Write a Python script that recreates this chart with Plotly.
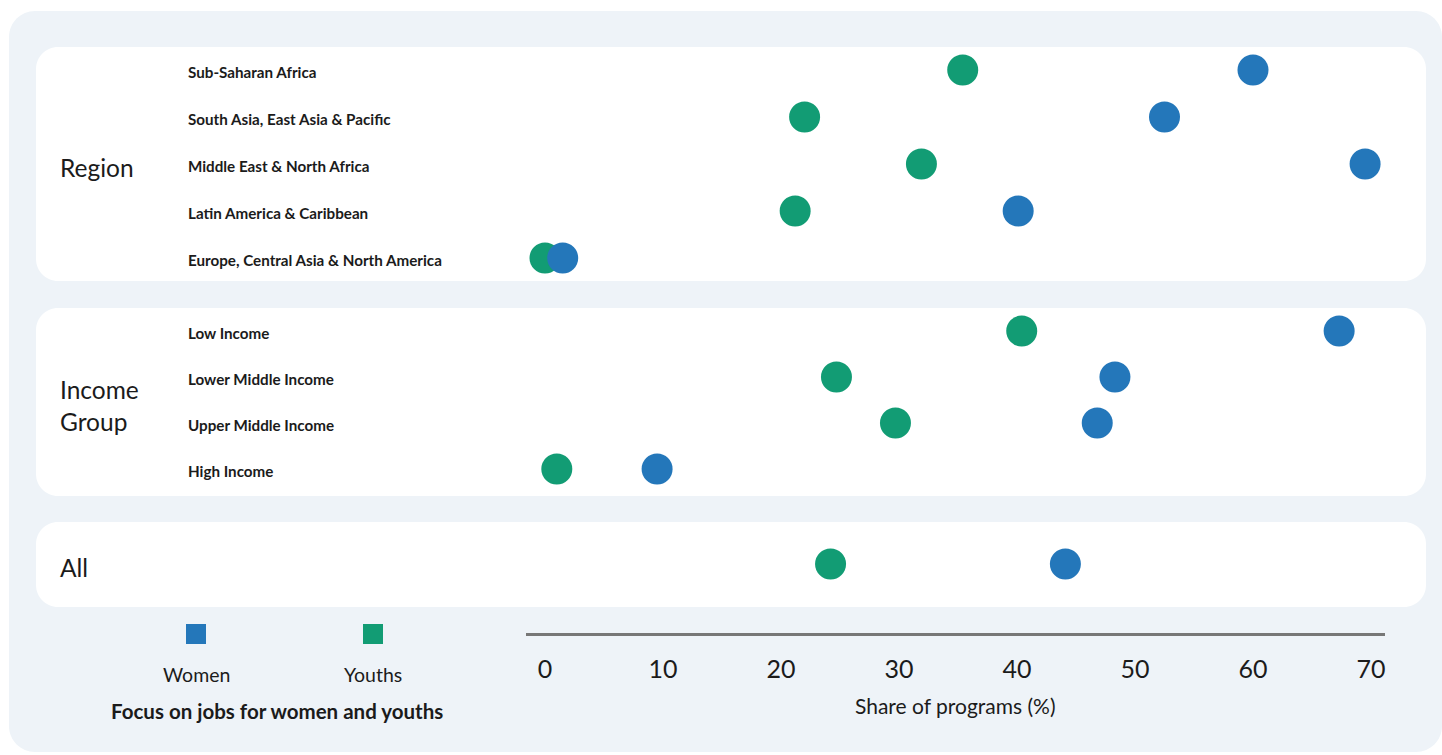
import plotly.graph_objects as go

# ---- data -------------------------------------------------------------
groups = ["Region", "Income Group", "All"]
region_labels = [
    "Sub-Saharan Africa",
    "South Asia, East Asia & Pacific",
    "Middle East & North Africa",
    "Latin America & Caribbean",
    "Europe, Central Asia & North America",
]
region_women = [60.0, 52.5, 69.5, 40.1, 1.5]
region_youths = [35.4, 22.0, 31.9, 21.2, 0.0]

income_labels = ["Low Income", "Lower Middle Income", "Upper Middle Income", "High Income"]
income_women = [67.3, 48.3, 46.8, 9.5]
income_youths = [40.4, 24.7, 29.7, 1.0]

all_women = [44.1]
all_youths = [24.2]

x_ticks = [0, 10, 20, 30, 40, 50, 60, 70]
series_names = ["Women", "Youths"]
colors = {"Women": "#2477BA", "Youths": "#129C74"}

# ---- page geometry (pixels) ------------------------------------------
W, H = 1442, 755
PANEL_BG = "#EEF3F8"
TEXT = "#1b1b1b"
FONT = "Lato, sans-serif"


def X(px):
    return px / W


def Y(py):
    return 1 - py / H


def rounded_rect(x0, y0, x1, y1, r, fill):
    k = 0.5523 * r
    p = (
        f"M {X(x0 + r)},{Y(y0)} L {X(x1 - r)},{Y(y0)} "
        f"C {X(x1 - r + k)},{Y(y0)} {X(x1)},{Y(y0 + r - k)} {X(x1)},{Y(y0 + r)} "
        f"L {X(x1)},{Y(y1 - r)} "
        f"C {X(x1)},{Y(y1 - r + k)} {X(x1 - r + k)},{Y(y1)} {X(x1 - r)},{Y(y1)} "
        f"L {X(x0 + r)},{Y(y1)} "
        f"C {X(x0 + r - k)},{Y(y1)} {X(x0)},{Y(y1 - r + k)} {X(x0)},{Y(y1 - r)} "
        f"L {X(x0)},{Y(y0 + r)} "
        f"C {X(x0)},{Y(y0 + r - k)} {X(x0 + r - k)},{Y(y0)} {X(x0 + r)},{Y(y0)} Z"
    )
    return dict(type="path", path=p, xref="paper", yref="paper",
                fillcolor=fill, line=dict(width=0), layer="below")


# panels: (top, bottom) in pixels, first row position and row step
panels = {
    "Region": dict(top=47, bottom=281, first=70, step=47),
    "Income Group": dict(top=308, bottom=496, first=331, step=46),
    "All": dict(top=522, bottom=607, first=564, step=0),
}
group_rows = {
    "Region": (region_labels, region_women, region_youths),
    "Income Group": (income_labels, income_women, income_youths),
    "All": ([""], all_women, all_youths),
}

# x scale: value 0 sits at 545 px, 70 at 1371 px; axis line spans 526-1385 px
AX_L, AX_R = 526, 1385
PX0, PX70 = 545, 1371
scale = (PX70 - PX0) / 70
x_range = [(AX_L - PX0) / scale, (AX_R - PX0) / scale]

fig = go.Figure()

ys, labels, women, youths = [], [], [], []
for g in groups:
    lab, wv, yv = group_rows[g]
    pnl = panels[g]
    for i in range(len(lab)):
        ys.append(pnl["first"] + i * pnl["step"])
        labels.append(lab[i])
        women.append(wv[i])
        youths.append(yv[i])

for name, vals in (("Youths", youths), ("Women", women)):
    fig.add_trace(go.Scatter(
        x=vals, y=ys, mode="markers", name=name,
        marker=dict(size=31, color=colors[name], line=dict(width=0)),
        showlegend=False,
        hovertemplate=name + ": %{x}%<extra></extra>",
    ))

shapes = [rounded_rect(9, 11, 1442, 752, 26, PANEL_BG)]
for g in groups:
    pnl = panels[g]
    shapes.append(rounded_rect(36, pnl["top"], 1426, pnl["bottom"], 22, "#FFFFFF"))

annotations = []
# group titles
for g in groups:
    pnl = panels[g]
    mid = (pnl["top"] + pnl["bottom"]) / 2 + 3
    annotations.append(dict(
        text=g.replace(" ", "<br>"), x=X(58), y=Y(mid), xref="paper", yref="paper",
        xanchor="left", yanchor="middle", align="left", showarrow=False,
        font=dict(family=FONT, size=24.5, color=TEXT),
    ))
# row labels
for yv, lab in zip(ys, labels):
    if lab:
        annotations.append(dict(
            text=f"<b>{lab}</b>", x=X(186), y=yv + 2, xref="paper", yref="y",
            xanchor="left", yanchor="middle", showarrow=False,
            font=dict(family=FONT, size=15.2, color=TEXT),
        ))

# legend swatches and captions
legend_cx = {"Women": 196, "Youths": 373}
for name in series_names:
    cx = legend_cx[name]
    shapes.append(dict(type="rect", xref="paper", yref="paper",
                       x0=X(cx - 10), x1=X(cx + 10), y0=Y(644), y1=Y(624),
                       fillcolor=colors[name], line=dict(width=0)))
    annotations.append(dict(
        text=name, x=X(cx), y=Y(674), xref="paper", yref="paper",
        xanchor="center", yanchor="middle", showarrow=False,
        font=dict(family=FONT, size=19.5, color=TEXT),
    ))
annotations.append(dict(
    text="<b>Focus on jobs for women and youths</b>", x=X(277), y=Y(711),
    xref="paper", yref="paper", xanchor="center", yanchor="middle", showarrow=False,
    font=dict(family=FONT, size=20.5, color=TEXT),
))
annotations.append(dict(
    text="Share of programs (%)", x=X(955), y=Y(705),
    xref="paper", yref="paper", xanchor="center", yanchor="middle", showarrow=False,
    font=dict(family=FONT, size=21, color=TEXT),
))

fig.update_layout(
    width=W, height=H,
    margin=dict(l=0, r=0, t=0, b=0),
    paper_bgcolor="#FFFFFF",
    plot_bgcolor="rgba(0,0,0,0)",
    shapes=shapes,
    annotations=annotations,
    xaxis=dict(
        domain=[X(AX_L), X(AX_R)],
        range=x_range,
        anchor="free", position=Y(634),
        showline=True, linecolor="#777777", linewidth=3,
        showgrid=False, zeroline=False,
        tickmode="array", tickvals=x_ticks, ticktext=[str(t) for t in x_ticks],
        ticks="outside", ticklen=12, tickcolor="rgba(0,0,0,0)",
        tickfont=dict(family=FONT, size=25, color=TEXT),
        fixedrange=True,
    ),
    yaxis=dict(
        domain=[0, 1], range=[H, 0], visible=False, fixedrange=True,
    ),
)

fig.write_html("out.html")
